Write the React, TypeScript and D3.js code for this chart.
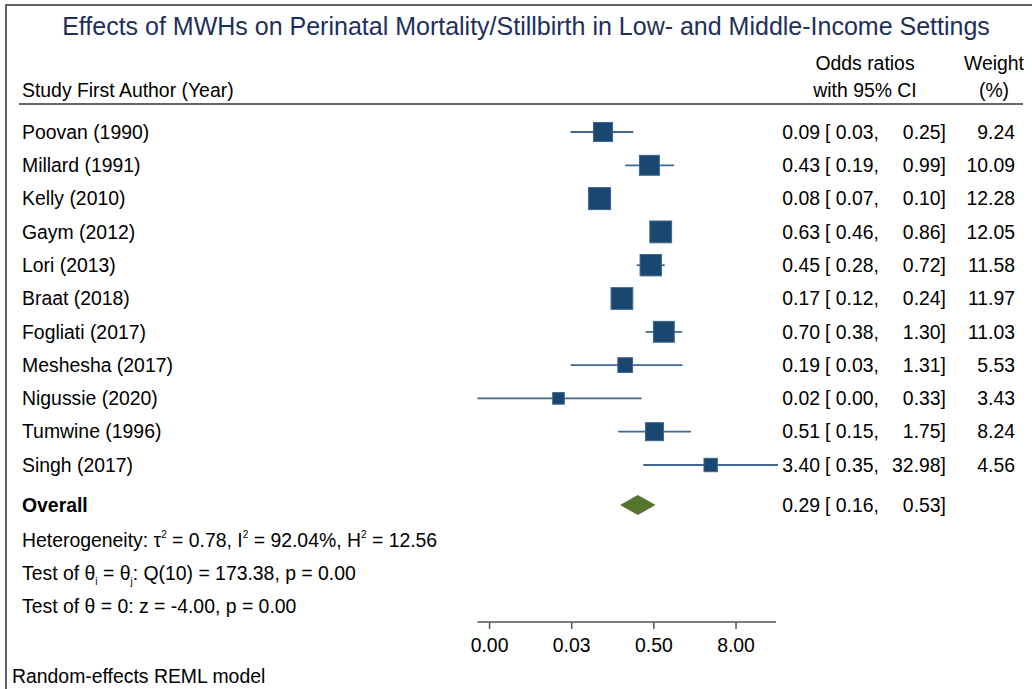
import { useEffect, useRef } from 'react';
import * as d3 from 'd3';

const studies = [
  "Poovan (1990)", "Millard (1991)", "Kelly (2010)", "Gaym (2012)", "Lori (2013)",
  "Braat (2018)", "Fogliati (2017)", "Meshesha (2017)", "Nigussie (2020)",
  "Tumwine (1996)", "Singh (2017)"
];
const oddsRatios = [0.09, 0.43, 0.08, 0.63, 0.45, 0.17, 0.70, 0.19, 0.02, 0.51, 3.40];
const lowerCI = [0.03, 0.19, 0.07, 0.46, 0.28, 0.12, 0.38, 0.03, 0.0013, 0.15, 0.35];
const upperCI = [0.25, 0.99, 0.10, 0.86, 0.72, 0.24, 1.30, 1.31, 0.33, 1.75, 32.98];
const weights = [9.24, 10.09, 12.28, 12.05, 11.58, 11.97, 11.03, 5.53, 3.43, 8.24, 4.56];
const overallOR = 0.29;
const overallLower = 0.16;
const overallUpper = 0.53;
const axisTicks = [2 ** -9, 2 ** -5, 2 ** -1, 2 ** 3];

const title = "Effects of MWHs on Perinatal Mortality/Stillbirth in Low- and Middle-Income Settings";

function App() {
  const svgRef = useRef<SVGSVGElement>(null);

  useEffect(() => {
    const width = 1032;
    const height = 689;
    const font = "'Liberation Sans', Arial, sans-serif";
    const fs = 19.4;
    const navy = "#1a476f";
    const fmt = d3.format(".2f");

    const svg = d3.select(svgRef.current);
    svg.selectAll("*").remove();
    svg.attr("width", width).attr("height", height)
      .style("font-family", font);

    // frame (left + top, rest is cropped)
    svg.append("path")
      .attr("d", `M6,${height} V5 H${width}`)
      .attr("fill", "none")
      .attr("stroke", "#333")
      .attr("stroke-width", 1.5);

    svg.append("text")
      .attr("x", 526)
      .attr("y", 26)
      .attr("dy", "0.35em")
      .attr("text-anchor", "middle")
      .attr("fill", "#1e2f5c")
      .style("font-size", "25px")
      .text(title);

    // header
    const hdr = svg.append("g").style("font-size", `${fs}px`).attr("fill", "#000");
    hdr.append("text").attr("x", 22).attr("y", 90).attr("dy", "0.35em").text("Study First Author (Year)");
    hdr.append("text").attr("x", 865).attr("y", 63).attr("dy", "0.35em").attr("text-anchor", "middle").text("Odds ratios");
    hdr.append("text").attr("x", 865).attr("y", 90).attr("dy", "0.35em").attr("text-anchor", "middle").text("with 95% CI");
    hdr.append("text").attr("x", 994).attr("y", 63).attr("dy", "0.35em").attr("text-anchor", "middle").text("Weight");
    hdr.append("text").attr("x", 994).attr("y", 90).attr("dy", "0.35em").attr("text-anchor", "middle").text("(%)");

    svg.append("line")
      .attr("x1", 19).attr("x2", 1023)
      .attr("y1", 104).attr("y2", 104)
      .attr("stroke", "#333")
      .attr("stroke-width", 1.5);

    // scales
    const xScale = d3.scaleLog().base(2)
      .domain([d3.min(lowerCI)!, d3.max(upperCI)!])
      .range([477.5, 778]);

    const yScale = d3.scaleLinear()
      .domain([0, studies.length - 1])
      .range([132, 465]);

    const size = d3.scaleSqrt()
      .domain([0, d3.max(weights)!])
      .range([0, 22]);

    const rows = studies.map((s, i) => ({
      name: s, or: oddsRatios[i], lo: lowerCI[i], hi: upperCI[i], w: weights[i], y: yScale(i)
    }));

    const g = svg.append("g");

    // CI lines
    g.selectAll(".ci")
      .data(rows)
      .join("line")
      .attr("x1", d => xScale(d.lo))
      .attr("x2", d => xScale(d.hi))
      .attr("y1", d => d.y)
      .attr("y2", d => d.y)
      .attr("stroke", "#3f6791")
      .attr("stroke-width", 1.8);

    // weight squares
    g.selectAll(".box")
      .data(rows)
      .join("rect")
      .attr("x", d => xScale(d.or) - size(d.w) / 2)
      .attr("y", d => d.y - size(d.w) / 2)
      .attr("width", d => size(d.w))
      .attr("height", d => size(d.w))
      .attr("fill", navy)
      .attr("stroke", "#3d6690")
      .attr("stroke-width", 1);

    // labels & numbers
    const txt = svg.append("g").style("font-size", `${fs}px`).attr("fill", "#000");
    rows.forEach(d => {
      txt.append("text").attr("x", 22).attr("y", d.y).attr("dy", "0.35em").text(d.name);
      txt.append("text").attr("x", 820).attr("y", d.y).attr("dy", "0.35em").attr("text-anchor", "end").text(fmt(d.or));
      txt.append("text").attr("x", 825).attr("y", d.y).attr("dy", "0.35em").text(`[ ${fmt(d.lo)},`);
      txt.append("text").attr("x", 946).attr("y", d.y).attr("dy", "0.35em").attr("text-anchor", "end").text(`${fmt(d.hi)}]`);
      txt.append("text").attr("x", 1015).attr("y", d.y).attr("dy", "0.35em").attr("text-anchor", "end").text(fmt(d.w));
    });

    // overall
    const oy = 505;
    const dh = 10;
    svg.append("path")
      .attr("d", `M${xScale(overallLower)},${oy} L${xScale(overallOR)},${oy - dh} L${xScale(overallUpper)},${oy} L${xScale(overallOR)},${oy + dh} Z`)
      .attr("fill", "#55752f");

    txt.append("text").attr("x", 22).attr("y", oy).attr("dy", "0.35em").style("font-weight", "bold").text("Overall");
    txt.append("text").attr("x", 820).attr("y", oy).attr("dy", "0.35em").attr("text-anchor", "end").text(fmt(overallOR));
    txt.append("text").attr("x", 825).attr("y", oy).attr("dy", "0.35em").text(`[ ${fmt(overallLower)},`);
    txt.append("text").attr("x", 946).attr("y", oy).attr("dy", "0.35em").attr("text-anchor", "end").text(`${fmt(overallUpper)}]`);

    // heterogeneity stats (super/subscripts with px offsets)
    const sup = 9;
    const sub = 5;
    const het = txt.append("text").attr("x", 22).attr("y", 540).attr("dy", "0.35em");
    het.append("tspan").text("Heterogeneity: τ");
    het.append("tspan").attr("dy", -sup).style("font-size", "10px").text("2");
    het.append("tspan").attr("dy", sup).text(" = 0.78, I");
    het.append("tspan").attr("dy", -sup).style("font-size", "10px").text("2");
    het.append("tspan").attr("dy", sup).text(" = 92.04%, H");
    het.append("tspan").attr("dy", -sup).style("font-size", "10px").text("2");
    het.append("tspan").attr("dy", sup).text(" = 12.56");

    const q = txt.append("text").attr("x", 22).attr("y", 573).attr("dy", "0.35em");
    q.append("tspan").text("Test of θ");
    q.append("tspan").attr("dy", sub).style("font-size", "10px").text("i");
    q.append("tspan").attr("dy", -sub).text(" = θ");
    q.append("tspan").attr("dy", sub).style("font-size", "10px").text("j");
    q.append("tspan").attr("dy", -sub).text(": Q(10) = 173.38, p = 0.00");

    txt.append("text").attr("x", 22).attr("y", 606).attr("dy", "0.35em").text("Test of θ = 0: z = -4.00, p = 0.00");

    // x axis
    const axisY = 622;
    const [r0, r1] = xScale.range();
    svg.append("line")
      .attr("x1", r0).attr("x2", r1 - 2)
      .attr("y1", axisY).attr("y2", axisY)
      .attr("stroke", "#555")
      .attr("stroke-width", 1.5);
    const ax = svg.append("g");
    ax.selectAll("line")
      .data(axisTicks)
      .join("line")
      .attr("x1", d => xScale(d)).attr("x2", d => xScale(d))
      .attr("y1", axisY).attr("y2", axisY + 7)
      .attr("stroke", "#555")
      .attr("stroke-width", 1.5);
    ax.selectAll("text")
      .data(axisTicks)
      .join("text")
      .attr("x", d => xScale(d))
      .attr("y", 645)
      .attr("dy", "0.35em")
      .attr("text-anchor", "middle")
      .style("font-size", `${fs}px`)
      .attr("fill", "#000")
      .text(d => fmt(d));

    txt.append("text").attr("x", 12).attr("y", 676).attr("dy", "0.35em").text("Random-effects REML model");
  }, []);

  return (
    <svg ref={svgRef} style={{ position: 'absolute', left: 0, top: 0, background: '#fff' }}></svg>
  );
}

export default App;
